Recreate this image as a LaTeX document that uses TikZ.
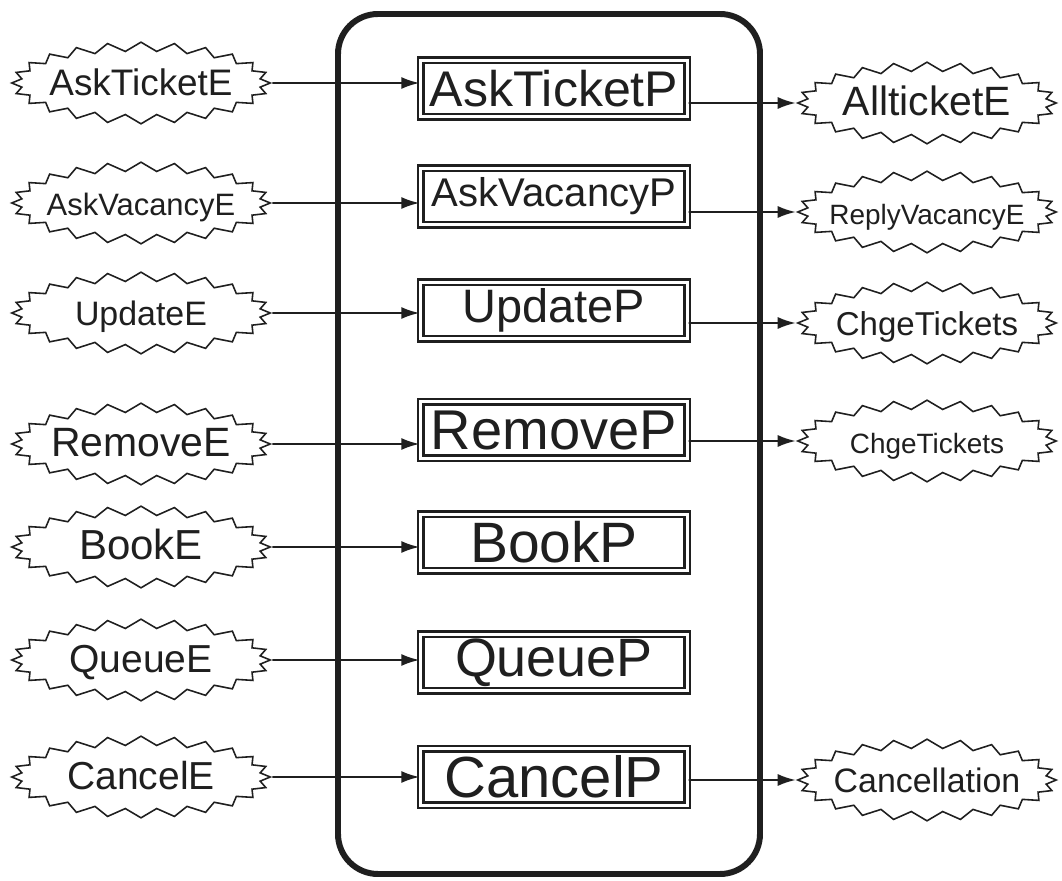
\documentclass[tikz,border=0pt]{standalone}
\usepackage{fontspec}
\setmainfont{Liberation Sans}
\usepackage{tikz}
\usetikzlibrary{positioning, shapes.symbols, arrows.meta}

\newcommand{\fsz}[1]{\fontsize{#1}{#1}\selectfont}
\newcommand{\evtext}[1]{\makebox[3.4cm][c]{#1}}

\tikzset{
  proc/.style={draw, rectangle, double, double distance=1.5pt, line width=1.6pt,
    minimum width=5.33cm, minimum height=1.13cm, inner sep=0pt},
  event/.style={draw, starburst, starburst points=24, starburst point height=0.18cm,
    random starburst=0, line width=0.9pt, inner sep=0pt,
    text height=0.7cm, text depth=0.2cm},
  flow/.style={-{Latex[length=0.36cm, width=0.24cm]}, line width=1.1pt},
}

\begin{document}
\begin{tikzpicture}[color=black!88]
      \useasboundingbox[fill=white] (0, 0) rectangle (21.24, 17.6);

      % system boundary
      \draw[line width=3.4pt, rounded corners=0.8cm] (6.76, 0.12) rectangle (15.2, 17.32);

      % processes
      \node[proc, font=\fsz{28.5}] (askticketp) at (11.08, 15.83) {AskTicketP};
      \node[proc, font=\fsz{22.8}] (askvacancyp) at (11.08, 13.67) {AskVacancyP};
      \node[proc, font=\fsz{26.7}] (updatep) at (11.08, 11.39) {UpdateP};
      \node[proc, font=\fsz{31.9}] (removep) at (11.08, 9.0) {RemoveP};
      \node[proc, font=\fsz{32.4}] (bookp) at (11.08, 6.75) {BookP};
      \node[proc, font=\fsz{30.7}] (queuep) at (11.08, 4.35) {QueueP};
      \node[proc, font=\fsz{33}] (cancelp) at (11.08, 2.06) {CancelP};

      % input events
      \node[event, font=\fsz{21}] (askticketin) at (2.82, 15.94) {\evtext{AskTicketE}};
      \node[event, font=\fsz{17.6}] (askvacancyin) at (2.82, 13.54) {\evtext{AskVacancyE}};
      \node[event, font=\fsz{19.3}] (updatein) at (2.82, 11.34) {\evtext{UpdateE}};
      \node[event, font=\fsz{23.3}] (removein) at (2.82, 8.72) {\evtext{RemoveE}};
      \node[event, font=\fsz{23.9}] (bookin) at (2.82, 6.66) {\evtext{BookE}};
      \node[event, font=\fsz{22.2}] (queuein) at (2.82, 4.4) {\evtext{QueueE}};
      \node[event, font=\fsz{22.2}] (cancelin) at (2.82, 2.06) {\evtext{CancelE}};

      % output events
      \node[event, font=\fsz{23.3}] (allticketout) at (18.54, 15.54) {\evtext{AllticketE}};
      \node[event, font=\fsz{15.9}] (replyout) at (18.54, 13.36) {\evtext{ReplyVacancyE}};
      \node[event, font=\fsz{18.8}] (chgeout) at (18.54, 11.14) {\evtext{ChgeTickets}};
      \node[event, font=\fsz{15.9}] (chgeoutb) at (18.54, 8.78) {\evtext{ChgeTickets}};
      \node[event, font=\fsz{19.3}] (cancelout) at (18.54, 2.0) {\evtext{Cancellation}};

      \draw[flow] (askticketin) -- (askticketin -| askticketp.west);
      \draw[flow] (askvacancyin) -- (askvacancyin -| askvacancyp.west);
      \draw[flow] (updatein) -- (updatein -| updatep.west);
      \draw[flow] (removein) -- (removein -| removep.west);
      \draw[flow] (bookin) -- (bookin -| bookp.west);
      \draw[flow] (queuein) -- (queuein -| queuep.west);
      \draw[flow] (cancelin) -- (cancelin -| cancelp.west);

      \draw[flow] (askticketp.east |- allticketout) -- (allticketout);
      \draw[flow] (askvacancyp.east |- replyout) -- (replyout);
      \draw[flow] (updatep.east |- chgeout) -- (chgeout);
      \draw[flow] (removep.east |- chgeoutb) -- (chgeoutb);
      \draw[flow] (cancelp.east |- cancelout) -- (cancelout);
    \end{tikzpicture}
\end{document}
